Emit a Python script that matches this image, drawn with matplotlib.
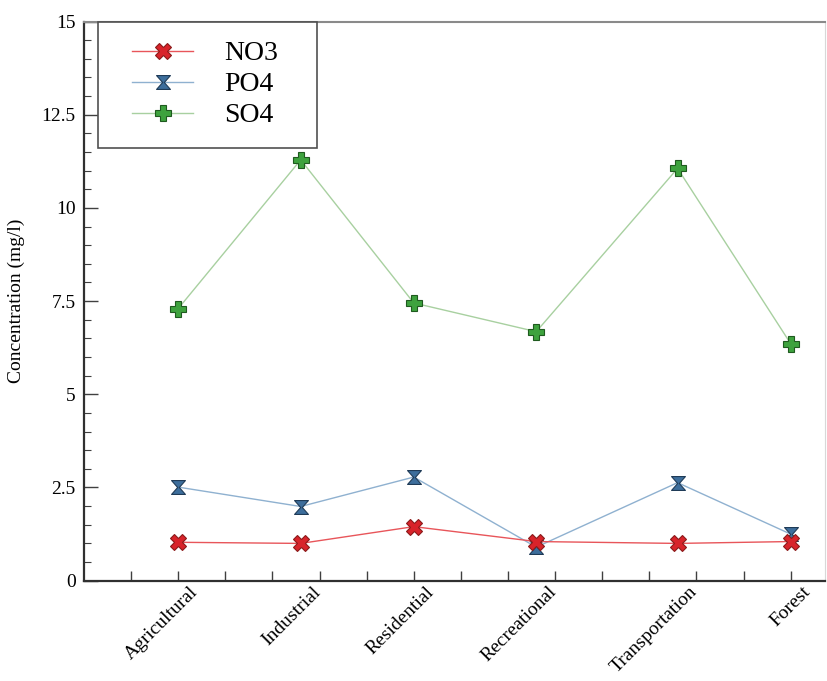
import numpy as np
import matplotlib.pyplot as plt
import matplotlib.transforms as mtransforms
from matplotlib.path import Path
from matplotlib.legend_handler import HandlerLine2D

plt.rcParams['font.family'] = ['Liberation Serif', 'DejaVu Serif']

# land use categories and where they sit on the numeric x axis
land_use = ['Agricultural', 'Industrial', 'Residential', 'Recreational', 'Transportation', 'Forest']
x_pos = [2, 4.6, 7, 9.6, 12.6, 15]

# concentrations (mg/l)
no3 = [1.03, 1.00, 1.45, 1.05, 1.00, 1.05]
po4 = [2.51, 1.99, 2.78, 0.90, 2.63, 1.25]
so4 = [7.30, 11.29, 7.45, 6.68, 11.06, 6.36]

# hourglass marker for PO4
hourglass = Path([(-1, 1), (1, 1), (0.12, 0), (1, -1), (-1, -1), (-0.12, 0), (-1, 1)],
                 [Path.MOVETO, Path.LINETO, Path.LINETO, Path.LINETO,
                  Path.LINETO, Path.LINETO, Path.CLOSEPOLY])

fig = plt.figure(figsize=(8.27, 6.81), dpi=100)
ax = fig.add_axes([0.1016, 0.1473, 0.896, 0.8211])

l1, = ax.plot(x_pos, no3, color='#e8555a', lw=1.0, marker='X', ms=11,
              mfc='#d8232a', mec='#8a1a1a', mew=0.8, label='NO3', zorder=4)
l2, = ax.plot(x_pos, po4, color='#8fb1d0', lw=1.0, marker=hourglass, ms=10,
              mfc='#3d6e9c', mec='#1f3b57', mew=0.8, label='PO4', zorder=3)
l3, = ax.plot(x_pos, so4, color='#a8d0a0', lw=1.0, marker='P', ms=11,
              mfc='#3ea23e', mec='#1f5a1f', mew=0.8, label='SO4', zorder=3)

ax.set_xlim(0, 15.73)
ax.set_ylim(0, 15)

# plain tick marks on integers, category names placed at the data positions
ax.xaxis.remove_overlapping_locs = False
ax.set_xticks(np.arange(1, 16))
ax.set_xticklabels([])
ax.set_xticks(x_pos, minor=True)
ax.set_xticklabels(land_use, minor=True, rotation=45, ha='right',
                   rotation_mode='anchor', fontsize=14)
ax.tick_params(axis='x', which='major', direction='in', length=7, width=1, color='#404040')
ax.tick_params(axis='x', which='minor', length=0, pad=2)
shift = mtransforms.ScaledTranslation(8 / 72, 0, fig.dpi_scale_trans)
for lbl in ax.get_xticklabels(minor=True):
    lbl.set_transform(lbl.get_transform() + shift)

ax.set_yticks([0, 2.5, 5, 7.5, 10, 12.5, 15])
ax.set_yticklabels(['0', '2.5', '5', '7.5', '10', '12.5', '15'])
ax.set_yticks(np.arange(0, 15.01, 0.5), minor=True)
ax.tick_params(axis='y', which='major', direction='in', length=10, width=1,
               color='#404040', labelsize=14, pad=6)
ax.tick_params(axis='y', which='minor', direction='in', length=5, width=0.8, color='#404040')

ax.set_ylabel('Concentration (mg/l)', fontsize=14, labelpad=12)

ax.spines['left'].set_color('#303030')
ax.spines['bottom'].set_color('#303030')
ax.spines['left'].set_linewidth(1.6)
ax.spines['bottom'].set_linewidth(1.6)
ax.spines['top'].set_color('#8a8a8a')
ax.spines['top'].set_linewidth(1.5)
ax.spines['right'].set_color('#d8d8d8')

leg = ax.legend(loc='upper left', bbox_to_anchor=(0.0188, 0.6, 0.2955, 0.4), mode='expand',
                fontsize=20, frameon=True, fancybox=False, handlelength=2.73,
                handletextpad=1.1, borderpad=0.7, labelspacing=0.2, borderaxespad=0,
                handler_map={l: HandlerLine2D(xpad=0.54) for l in (l1, l2, l3)})
leg.get_frame().set_edgecolor('#505050')
leg.get_frame().set_linewidth(1.2)
leg.get_frame().set_alpha(1)

fig.savefig('out.png', dpi=100)
